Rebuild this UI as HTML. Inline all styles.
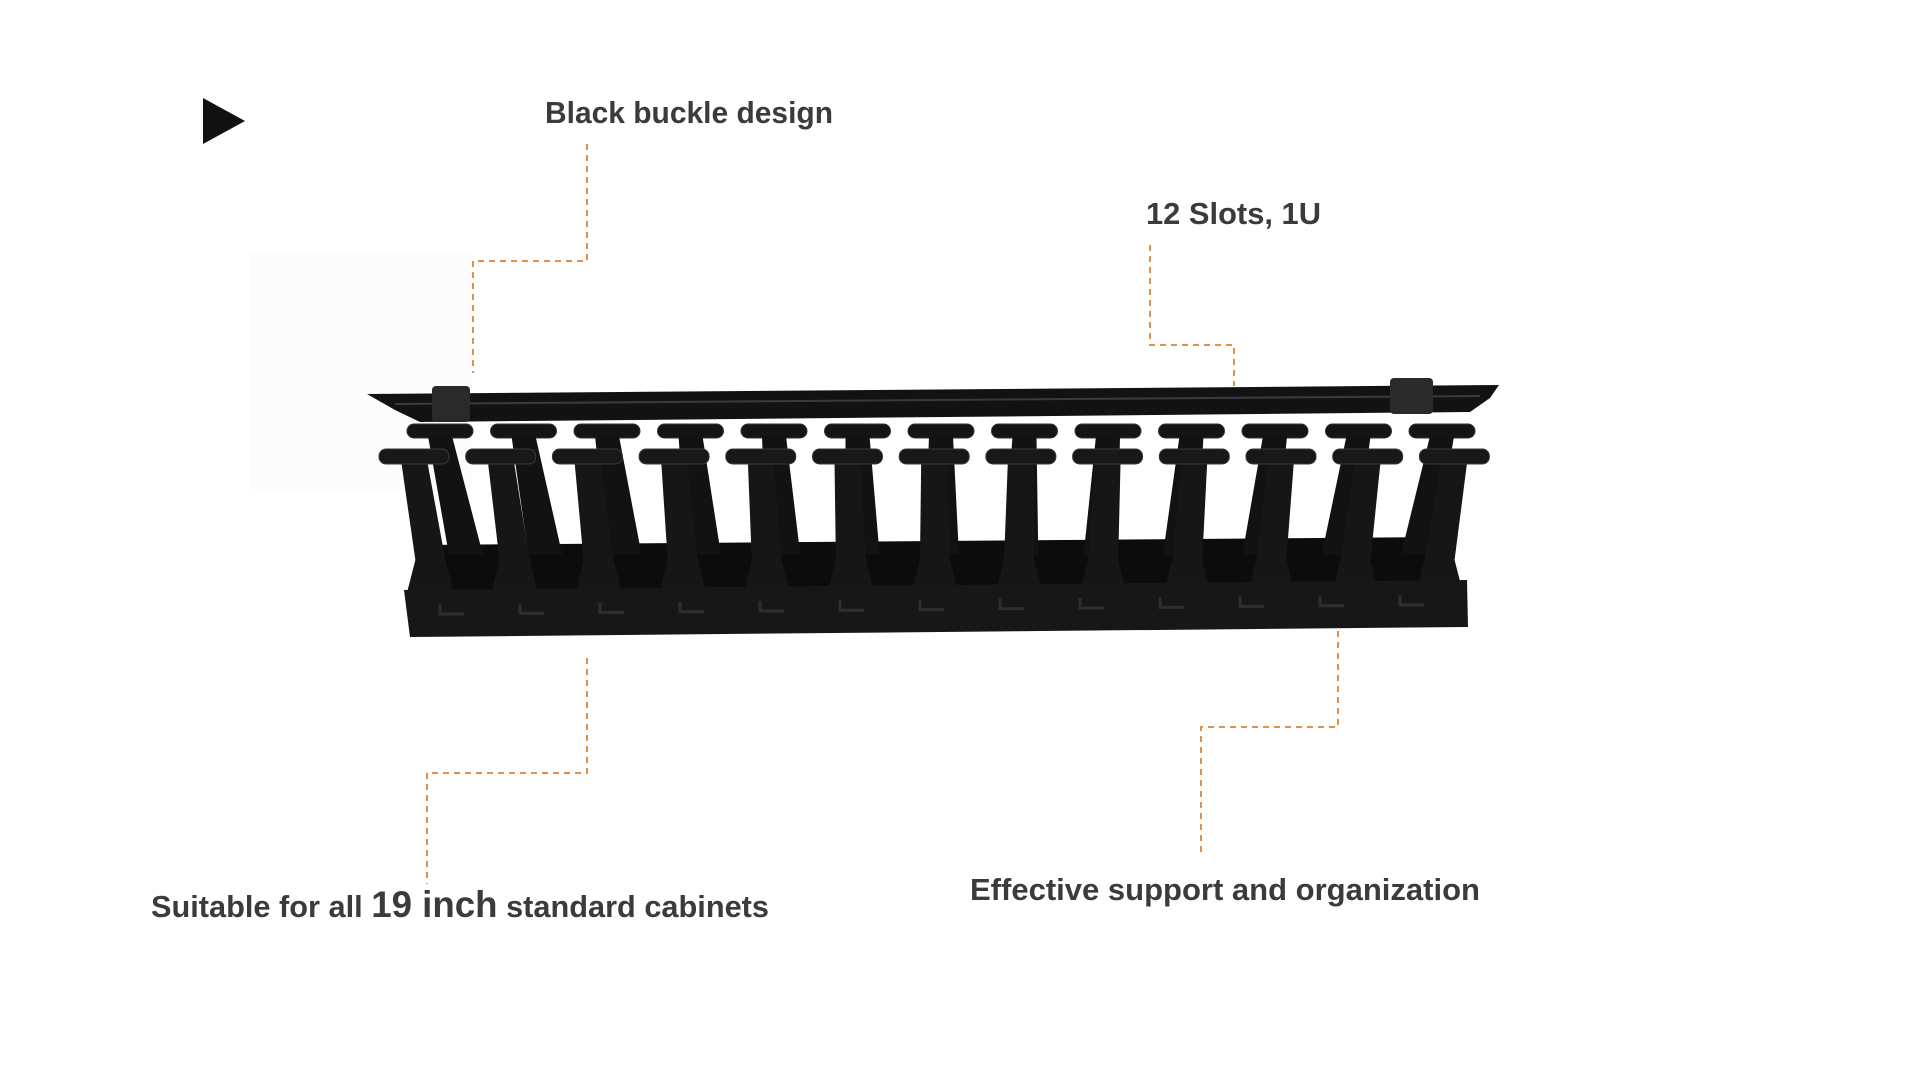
<!DOCTYPE html>
<html><head><meta charset="utf-8"><style>
html,body{margin:0;padding:0;background:#fff;}
svg{display:block;}
text{font-family:"Liberation Sans",sans-serif;font-weight:bold;fill:#3b3b3b;}
</style></head><body>
<svg id="s" width="1920" height="1080" viewBox="0 0 1920 1080" xmlns="http://www.w3.org/2000/svg">
<rect width="1920" height="1080" fill="#fff"/>
<rect x="250" y="252" width="222" height="238" fill="#fcfcfc"/>
<polygon points="203,98 245,121 203,144" fill="#111"/>
<text x="545" y="123" font-size="31" textLength="288" lengthAdjust="spacingAndGlyphs">Black buckle design</text>
<text x="1146" y="224" font-size="31" textLength="175" lengthAdjust="spacingAndGlyphs">12 Slots, 1U</text>
<text x="970" y="900" font-size="31" textLength="510" lengthAdjust="spacingAndGlyphs">Effective support and organization</text>
<text x="151" y="917" font-size="31" textLength="618" lengthAdjust="spacingAndGlyphs">Suitable for all <tspan font-size="37">19 inch</tspan> standard cabinets</text>
<g fill="none" stroke="#e0924a" stroke-width="2" stroke-dasharray="6,5">
<polyline points="587,144 587,261 473,261 473,373"/>
<polyline points="1150,245 1150,345 1234,345 1234,386"/>
<polyline points="587,658 587,773 427,773 427,884"/>
<polyline points="1338,631 1338,727 1201,727 1201,857"/>
</g>
<g id="prod"></g>
</svg>
<script>
var g=document.getElementById('prod'),h='';
h+='<polygon points="420,545 1445,537 1445,592 420,598" fill="#0c0c0c"/>';
for(var i=0;i<13;i++){var cx=440+i*83.5,sh=(960-cx)*0.05;
h+='<rect x="'+(cx-33)+'" y="424" width="66" height="14" rx="7" fill="#141414" stroke="#333" stroke-width="1"/>';
h+='<polygon points="'+(cx-12)+',436 '+(cx+12)+',436 '+(cx+sh+17)+',555 '+(cx+sh-17)+',555" fill="#121212"/>';}
h+='<polygon points="367,394 1499,385 1490,398 1470,412 420,422 395,410" fill="#121212"/>';
h+='<line x1="395" y1="404" x2="1480" y2="396" stroke="#3a3a3a" stroke-width="2"/>';
h+='<rect x="432" y="386" width="38" height="36" rx="4" fill="#2a2a2a"/>';
h+='<rect x="1390" y="378" width="43" height="36" rx="4" fill="#2a2a2a"/>';
for(var i=0;i<13;i++){var cx=414+i*86.7,sh=(960-cx)*0.03;
h+='<polygon points="'+(cx-13)+',460 '+(cx+13)+',460 '+(cx+sh+15)+',560 '+(cx+sh+24)+',595 '+(cx+sh-24)+',595 '+(cx+sh-15)+',560" fill="#161616"/>';
h+='<rect x="'+(cx-35)+'" y="449" width="70" height="15" rx="7" fill="#181818" stroke="#3a3a3a" stroke-width="1"/>';}
h+='<polygon points="404,590 1467,580 1468,627 410,637" fill="#171717"/>';
for(var i=0;i<13;i++){var x=440+i*80,y=614-i*0.75;
h+='<polyline points="'+x+','+(y-10)+' '+x+','+y+' '+(x+24)+','+y+'" fill="none" stroke="#2e2e2e" stroke-width="3"/>';}
g.innerHTML=h;
</script>
</body></html>
